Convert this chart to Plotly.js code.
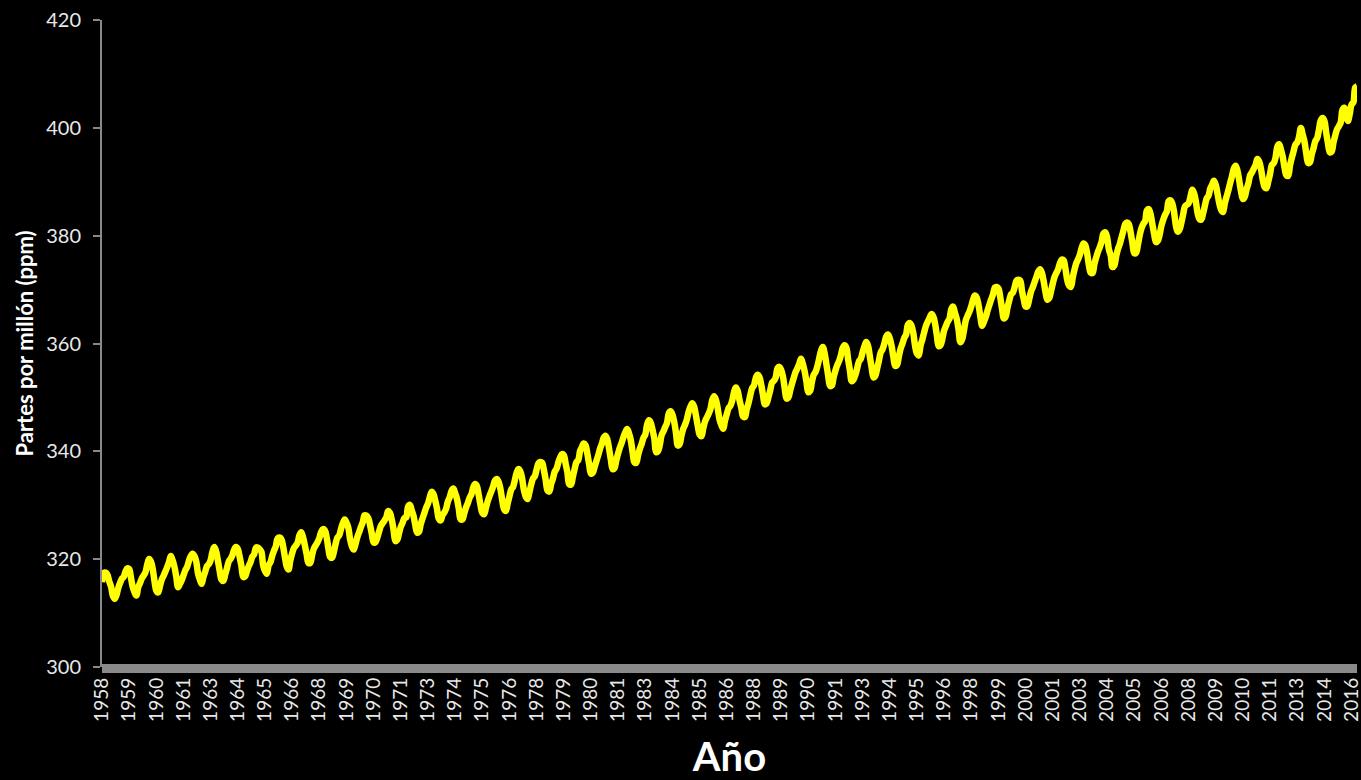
<!DOCTYPE html>
<html>
<head>
<meta charset="utf-8">
<script src="https://cdn.plot.ly/plotly-3.0.1.min.js"></script>
<style>
  html, body { margin: 0; padding: 0; background: #000; }
  #chart { width: 1361px; height: 780px; }
</style>
</head>
<body>
<div id="chart"></div>
<script>
// Monthly CO2 concentration (ppm) (Mauna Loa series)
const co2 = [
  315.71, 317.45, 317.50, 317.10, 315.86, 314.93, 313.20, 312.66, 313.33, 314.67,
  315.62, 316.38, 316.71, 317.72, 318.29, 318.15, 316.54, 314.80, 313.84, 313.26, 314.80, 315.58,
  316.43, 316.97, 317.58, 319.02, 320.03, 319.59, 318.18, 315.91, 314.16, 313.83, 315.00, 316.19,
  316.93, 317.70, 318.54, 319.48, 320.58, 319.77, 318.57, 316.79, 314.80, 315.38, 316.10, 317.01,
  317.94, 318.56, 319.68, 320.57, 321.02, 320.62, 319.61, 317.40, 316.25, 315.42, 316.69, 317.70,
  318.74, 319.07, 319.86, 321.38, 322.25, 321.48, 319.74, 317.77, 316.21, 315.99, 317.12, 318.31,
  319.57, 320.07, 320.73, 321.77, 322.25, 321.89, 320.44, 318.70, 316.70, 316.79, 317.79, 318.71,
  319.44, 320.44, 320.89, 322.13, 322.16, 321.87, 321.39, 318.81, 317.81, 317.30, 318.87, 319.42,
  320.62, 321.59, 322.39, 323.87, 324.01, 323.75, 322.39, 320.37, 318.64, 318.10, 319.79, 321.08,
  322.07, 322.50, 323.04, 324.42, 325.00, 324.09, 322.55, 320.92, 319.31, 319.31, 320.72, 321.96,
  322.57, 323.15, 323.89, 325.02, 325.57, 325.36, 324.14, 322.03, 320.41, 320.25, 321.31, 322.84,
  324.00, 324.42, 325.64, 326.66, 327.34, 326.76, 325.88, 323.67, 322.38, 321.78, 322.85, 324.11,
  325.03, 325.99, 326.87, 328.13, 328.07, 327.66, 326.35, 324.69, 323.10, 323.16, 323.98, 325.13,
  326.17, 326.68, 327.18, 327.78, 328.92, 328.57, 327.34, 325.46, 323.36, 323.57, 324.80, 326.01,
  326.77, 327.63, 327.75, 329.72, 330.07, 329.09, 328.05, 326.32, 324.93, 325.06, 326.50, 327.55,
  328.54, 329.56, 330.30, 331.50, 332.48, 332.07, 330.87, 329.31, 327.51, 327.18, 328.16, 328.64,
  329.35, 330.71, 331.48, 332.65, 333.09, 332.25, 331.18, 329.40, 327.43, 327.37, 328.46, 329.57,
  330.40, 331.40, 332.04, 333.31, 333.96, 333.59, 331.91, 330.06, 328.56, 328.34, 329.49, 330.76,
  331.75, 332.56, 333.50, 334.58, 334.87, 334.34, 333.05, 330.94, 329.30, 328.94, 330.31, 331.68,
  332.93, 333.42, 334.70, 336.07, 336.74, 336.27, 334.93, 332.75, 331.58, 331.16, 332.40, 333.85,
  334.97, 335.39, 336.64, 337.76, 338.01, 337.89, 336.54, 334.68, 332.76, 332.54, 333.92, 334.95,
  336.23, 336.76, 337.96, 338.89, 339.47, 339.29, 337.73, 336.09, 333.91, 333.86, 335.29, 336.73,
  338.01, 338.36, 340.08, 340.77, 341.46, 341.17, 339.56, 337.60, 335.88, 336.01, 337.10, 338.21,
  339.24, 340.48, 341.38, 342.51, 342.91, 342.25, 340.49, 338.43, 336.69, 336.85, 338.36, 339.61,
  340.75, 341.61, 342.70, 343.56, 344.13, 343.35, 342.06, 339.82, 337.97, 337.86, 339.26, 340.49,
  341.38, 342.52, 343.10, 344.94, 345.75, 345.32, 343.99, 342.39, 339.86, 339.99, 341.16, 342.99,
  343.70, 344.51, 345.28, 347.08, 347.43, 346.79, 345.40, 343.28, 341.07, 341.35, 342.98, 344.22,
  344.97, 345.99, 347.42, 348.35, 348.93, 348.25, 346.56, 344.67, 343.09, 342.80, 344.24, 345.56,
  346.29, 346.96, 347.86, 349.55, 350.21, 349.54, 347.94, 345.91, 344.86, 344.17, 345.66, 346.90,
  348.02, 348.47, 349.42, 350.99, 351.84, 351.25, 349.52, 348.10, 346.44, 346.36, 347.81, 348.96,
  350.43, 351.72, 352.22, 353.59, 354.22, 353.79, 352.39, 350.44, 348.72, 348.88, 350.07, 351.34,
  352.76, 353.07, 353.68, 355.42, 355.67, 355.13, 353.90, 351.67, 349.80, 349.99, 351.30, 352.53,
  353.66, 354.70, 355.39, 356.20, 357.16, 356.22, 354.82, 352.91, 350.96, 351.18, 352.83, 354.21,
  354.72, 355.75, 357.16, 358.60, 359.34, 358.24, 356.17, 354.03, 352.16, 352.21, 353.75, 354.99,
  355.99, 356.72, 357.81, 359.15, 359.66, 359.25, 357.02, 355.00, 353.01, 353.31, 354.16, 355.40,
  356.70, 357.16, 358.38, 359.46, 360.28, 359.60, 357.57, 355.52, 353.70, 353.98, 355.33, 356.80,
  358.36, 358.91, 359.97, 361.26, 361.68, 360.95, 359.55, 357.49, 355.84, 356.00, 357.59, 359.05,
  359.98, 361.03, 361.66, 363.48, 363.82, 363.30, 361.94, 359.50, 358.11, 357.80, 359.61, 360.74,
  362.09, 363.29, 364.06, 364.76, 365.45, 365.01, 363.70, 361.54, 359.51, 359.65, 360.80, 362.38,
  363.23, 364.06, 364.61, 366.40, 366.84, 365.68, 364.52, 362.57, 360.24, 360.83, 362.49, 364.34,
  365.17, 365.91, 366.91, 368.11, 368.89, 368.54, 367.17, 365.04, 363.27, 364.05, 364.91, 366.11,
  367.14, 368.18, 369.07, 370.37, 370.48, 370.22, 368.58, 366.45, 364.64, 365.01, 366.68, 368.00,
  369.14, 369.46, 370.51, 371.66, 371.83, 371.68, 369.78, 368.20, 366.87, 366.94, 368.27, 369.64,
  370.46, 371.44, 372.37, 373.33, 373.77, 373.09, 371.51, 369.55, 368.12, 368.38, 369.66, 371.11,
  372.36, 373.09, 373.81, 374.93, 375.58, 375.44, 373.86, 371.77, 370.73, 370.50, 372.18, 373.70,
  374.92, 375.62, 376.51, 377.75, 378.54, 378.20, 376.68, 374.43, 373.11, 373.10, 374.77, 375.97,
  377.03, 377.87, 378.88, 380.42, 380.62, 379.70, 377.43, 376.32, 374.19, 374.47, 376.15, 377.51,
  378.43, 379.70, 380.92, 382.18, 382.45, 382.14, 380.60, 378.64, 376.73, 376.84, 378.29, 380.06,
  381.40, 382.20, 382.66, 384.69, 384.94, 384.01, 382.14, 380.31, 378.81, 379.03, 380.17, 381.85,
  382.94, 383.86, 384.49, 386.37, 386.54, 385.98, 384.36, 381.85, 380.74, 381.15, 382.38, 383.94,
  385.44, 385.73, 385.97, 387.16, 388.50, 387.88, 386.38, 384.15, 383.07, 382.98, 384.11, 385.54,
  386.92, 387.41, 388.77, 389.46, 390.18, 389.43, 387.74, 385.91, 384.77, 384.38, 385.99, 387.27,
  388.45, 389.82, 391.08, 392.46, 392.96, 392.03, 390.13, 388.15, 386.80, 387.18, 388.59, 389.68,
  391.19, 391.73, 392.42, 393.14, 394.21, 393.74, 392.36, 390.28, 389.02, 388.79, 390.04, 391.49,
  393.13, 393.42, 394.43, 396.51, 396.96, 395.97, 394.60, 392.61, 391.20, 391.09, 393.03, 394.44,
  395.69, 396.92, 397.29, 398.34, 399.98, 398.75, 397.42, 395.24, 393.49, 393.60, 395.08, 396.23,
  397.55, 398.09, 399.68, 401.41, 401.84, 401.30, 399.07, 397.06, 395.45, 395.61, 397.25, 398.61,
  399.72, 400.31, 401.00, 403.34, 403.74, 402.85, 401.29,
  402.57, 404.35, 404.71, 407.45, 407.72
];

// Month spans covered by the series: [year, first month, last month]
const monthSpans = [[1958, 3, 12]];
for (let y = 1959; y <= 2014; y++) monthSpans.push([y, 1, 12]);
monthSpans.push([2015, 1, 7]);
monthSpans.push([2016, 1, 5]);

const categories = [];
monthSpans.forEach(([y, m0, m1]) => {
  for (let m = m0; m <= m1; m++) categories.push(y + '-' + String(m).padStart(2, '0'));
});

// Category-axis labels as printed (one every 15 categories)
const tickLabels = [
  '1958','1959','1960','1961','1963','1964','1965','1966','1968','1969',
  '1970','1971','1973','1974','1975','1976','1978','1979','1980','1981',
  '1983','1984','1985','1986','1988','1989','1990','1991','1993','1994',
  '1995','1996','1998','1999','2000','2001','2003','2004','2005','2006',
  '2008','2009','2010','2011','2013','2014','2016'
];
const labelStep = 15;
const tickVals = tickLabels.map((_, k) => categories[k * labelStep]);

const yTicks = [300, 320, 340, 360, 380, 400, 420];

const FONT = 'Lato, "Open Sans", sans-serif';

const trace = {
  type: 'scatter',
  mode: 'lines',
  x: categories,
  y: co2,
  line: { color: '#FFFF00', width: 6.5, shape: 'spline', smoothing: 1 },
  hoverinfo: 'x+y'
};

const layout = {
  width: 1361,
  height: 780,
  paper_bgcolor: '#000000',
  plot_bgcolor: '#000000',
  margin: { l: 102, r: 4, t: 20, b: 113 },
  showlegend: false,
  font: { family: FONT, color: '#ffffff' },
  xaxis: {
    type: 'category',
    range: [0, categories.length - 1],
    tickmode: 'array',
    tickvals: tickVals,
    ticktext: tickLabels,
    tickangle: -90,
    tickfont: { family: FONT, size: 19, color: '#e8e8e8' },
    ticks: '',
    showline: false,
    showgrid: false,
    zeroline: false,
    ticklabelstandoff: 6,
    title: { text: 'Año', font: { family: FONT, size: 40, color: '#ffffff', weight: 'bold' }, standoff: 24 },
    automargin: false
  },
  yaxis: {
    range: [300, 420],
    tickmode: 'array',
    tickvals: yTicks,
    ticktext: yTicks.map(String),
    tickfont: { family: FONT, size: 20, color: '#e8e8e8' },
    ticks: 'outside',
    ticklen: 7,
    tickwidth: 2,
    tickcolor: '#898989',
    showline: true,
    linecolor: '#898989',
    linewidth: 2,
    showgrid: false,
    zeroline: false,
    ticklabelstandoff: 8,
    title: { text: 'Partes por millón (ppm)', font: { family: FONT, size: 22, color: '#ffffff', weight: 'bold' }, standoff: 6 },
    automargin: false
  },
  shapes: [
    {
      type: 'rect', layer: 'above',
      xref: 'paper', x0: 0, x1: 1,
      yref: 'paper', ysizemode: 'pixel', yanchor: 0, y0: -6, y1: 3,
      fillcolor: '#8a8a8a', line: { width: 0 }
    }
  ]
};

Plotly.newPlot('chart', [trace], layout, { displayModeBar: false, staticPlot: true });
</script>
</body>
</html>
